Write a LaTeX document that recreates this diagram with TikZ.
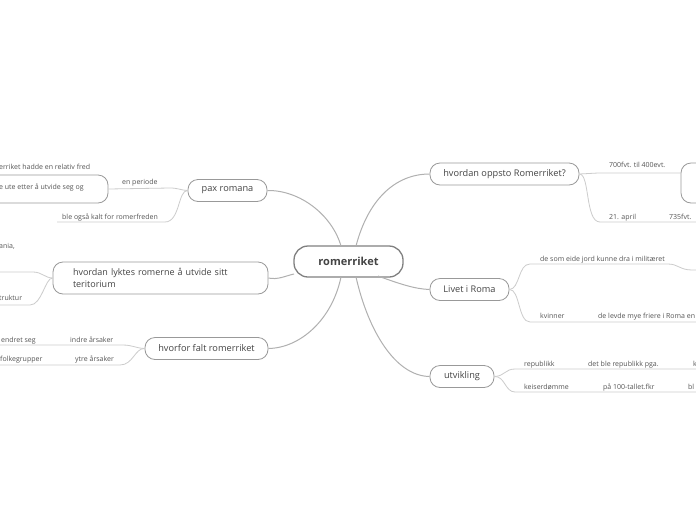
\documentclass[tikz,border=0pt]{standalone}
\usepackage{fontspec}
\setmainfont{Open Sans}
\definecolor{txt}{HTML}{444444}
\definecolor{smalltxt}{HTML}{555555}
\definecolor{boxline}{HTML}{999999}
\definecolor{cenline}{HTML}{808080}
\definecolor{mainline}{HTML}{B0B0B0}
\definecolor{subline}{HTML}{CCCCCC}
\begin{document}
\begin{tikzpicture}[x=1pt,y=-1pt,
  central/.style={draw=cenline, line width=1.3pt, rounded corners=14pt, minimum width=109pt, minimum height=31pt, inner sep=0pt, text=txt, font=\fontsize{11}{13}\selectfont\bfseries},
  topic/.style={draw=boxline, line width=0.8pt, rounded corners=10pt, minimum height=22pt, inner sep=0pt, text=txt, font=\fontsize{9.2}{11}\selectfont},
  mainc/.style={draw=mainline, line width=1pt},
  subc/.style={draw=subline, line width=0.8pt},
  lbl/.style={text=smalltxt, font=\fontsize{7}{8}\selectfont, inner sep=0pt, anchor=base west}]
\useasboundingbox[fill=white] (0,0) rectangle (696,520);

% central
\node[central] (c) at (348.5,261.5) {romerriket};

% topics
\node[topic, minimum width=149pt] (t1) at (504.5,174) {hvordan oppsto Romerriket?};
\node[topic, minimum width=79pt] (t2) at (469.5,289.5) {Livet i Roma};
\node[topic, minimum width=64pt] (t3) at (462,376.5) {utvikling};
\node[topic, minimum width=79pt] (t4) at (227.5,190.5) {pax romana};
\node[topic, minimum height=32pt, text width=175pt, inner xsep=20pt, align=left, font=\fontsize{9}{12}\selectfont] (t5) at (160.5,278) {hvordan lyktes romerne å utvide sitt\\teritorium};
\node[topic, minimum width=123pt] (t6) at (206.5,348.5) {hvorfor falt romerriket};

% partial boxes at the edges
\node[topic, minimum width=60pt, minimum height=40pt] (t1a) at (711,183) {};
\node[topic, minimum width=160pt, minimum height=28pt] (t4a) at (28,189) {};

% main connectors
\coordinate (c1) at (356,246);
\coordinate (c4) at (341,246);
\coordinate (c6) at (341,277);
\coordinate (c3) at (356,277);
\coordinate (c2) at (378,276);
\coordinate (c5) at (294,274);
\draw[mainc] (c1) .. controls (368,200) and (395,174) .. (t1.west);
\draw[mainc] (c4) .. controls (332,215) and (300,190) .. (t4.east);
\draw[mainc] (c6) .. controls (332,320) and (300,348) .. (t6.east);
\draw[mainc] (c3) .. controls (368,330) and (395,376) .. (t3.west);
\draw[mainc] (c2) .. controls (400,284) and (415,289) .. (t2.west);
\draw[mainc] (c5) .. controls (285,276) and (278,280) .. (t5.east);

% --- hvordan oppsto Romerriket?
\coordinate (e1a) at (681,173);
\coordinate (e1b) at (700,222);
\draw[subc] (t1.east) .. controls (588,174) and (588,173) .. (598,173) -- (e1a);
\draw[subc] (t1.east) .. controls (590,174) and (585,222) .. (600,222) -- (e1b);
\node[lbl] (l1) at (609,167) {700fvt. til 400evt.};
\node[lbl] (l2) at (609,219) {21. april};
\node[lbl] (l3) at (669,219) {735fvt.};

% --- Livet i Roma
\coordinate (e2a) at (700,270);
\coordinate (e2b) at (700,322);
\draw[subc] (t2.east) .. controls (520,289) and (518,264) .. (530,264) -- (668,264) .. controls (678,264) and (680,270) .. (692,270) -- (e2a);
\draw[subc] (t2.east) .. controls (520,289) and (518,322) .. (530,322) -- (e2b);
\node[lbl] (l4) at (540,261) {de som eide jord kunne dra i militæret};
\node[lbl] (l5) at (540,318) {kvinner};
\node[lbl] (l6) at (598,318) {de levde mye friere i Roma en};

% --- utvikling
\coordinate (e3a) at (700,369);
\coordinate (e3b) at (700,392);
\draw[subc] (t3.east) .. controls (505,376) and (505,369) .. (515,369) -- (e3a);
\draw[subc] (t3.east) .. controls (505,376) and (505,392) .. (515,392) -- (e3b);
\node[lbl] (l7) at (524,366) {republikk};
\node[lbl] (l8) at (588,366) {det ble republikk pga.};
\node[lbl] (l9) at (693,366) {k};
\node[lbl] (l10) at (524,389) {keiserdømme};
\node[lbl] (l11) at (603,389) {på 100-tallet.fkr};
\node[lbl] (l12) at (688,389) {bl};

% --- pax romana
\coordinate (e4b) at (57,222);
\draw[subc] (t4.west) .. controls (180,190) and (178,188) .. (170,188) -- (t4a.east);
\draw[subc] (t4.west) .. controls (178,190) and (180,222) .. (165,222) -- (e4b);
\node[lbl] (l13) at (122,184) {en periode};
\node[lbl] (l14) at (-1,189) {e ute etter å utvide seg og};
\node[lbl] (l15) at (-1,169) {erriket hadde en relativ fred};
\node[lbl] (l16) at (62,219) {ble også kalt for romerfreden};

% --- hvordan lyktes
\coordinate (e5a) at (-5,272);
\coordinate (e5b) at (-5,305);
\draw[subc] (t5.west) .. controls (45,278) and (42,272) .. (33,272) -- (e5a);
\draw[subc] (t5.west) .. controls (45,278) and (42,305) .. (30,305) -- (e5b);
\node[lbl] (l17) at (-1,248) {ania,};
\node[lbl] (l18) at (-1,300) {truktur};

% --- hvorfor falt
\coordinate (e6a) at (-5,345);
\coordinate (e6b) at (-5,365);
\draw[subc] (t6.west) .. controls (135,348) and (133,345) .. (122,345) -- (e6a);
\draw[subc] (t6.west) .. controls (135,348) and (133,365) .. (120,365) -- (e6b);
\node[lbl] (l19) at (70,342) {indre årsaker};
\node[lbl] (l20) at (1,342) {endret seg};
\node[lbl] (l21) at (75,361) {ytre årsaker};
\node[lbl] (l22) at (0,361) {folkegrupper};
\end{tikzpicture}
\end{document}
